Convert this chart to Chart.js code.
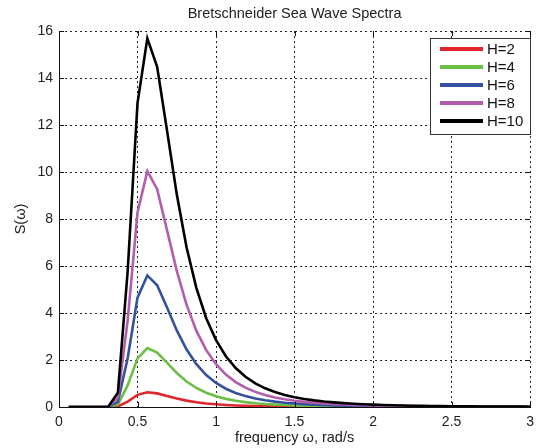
<!DOCTYPE html>
<html>
<head>
<meta charset="utf-8">
<script src="https://cdn.jsdelivr.net/npm/chart.js@4.4.0/dist/chart.umd.min.js"></script>
<style>
html,body{margin:0;padding:0;background:#fff;}
#wrap{width:541px;height:448px;}
</style>
</head>
<body>
<div id="wrap"><canvas id="c" width="541" height="448"></canvas></div>
<script>
const omega = [0.0625,0.125,0.1875,0.25,0.3125,0.375,0.4375,0.5,0.5625,0.625,0.6875,0.75,0.8125,0.875,0.9375,1.0,
  1.0625,1.125,1.1875,1.25,1.3125,1.375,1.4375,1.5,1.5625,1.625,1.6875,1.75,1.8125,1.875,1.9375,2.0,
  2.0625,2.125,2.1875,2.25,2.3125,2.375,2.4375,2.5,2.5625,2.625,2.6875,2.75,2.8125,2.875,2.9375,3.0];

const sH2 = [0,0,0,0,0,0.024,0.232,0.517,0.627,0.579,0.471,0.362,0.272,0.202,0.151,0.114,
  0.086,0.066,0.051,0.04,0.032,0.025,0.02,0.017,0.014,0.011,0.009,0.008,0.007,0.006,0.005,0.004,
  0.003,0.003,0.003,0.002,0.002,0.002,0.002,0.001,0.001,0.001,0.001,0.001,0.001,0.001,0.001,0.001];
const sH4 = [0,0,0,0,0,0.097,0.928,2.069,2.51,2.317,1.885,1.448,1.086,0.809,0.605,0.455,
  0.346,0.265,0.206,0.161,0.127,0.102,0.082,0.067,0.054,0.045,0.037,0.031,0.026,0.022,0.019,0.016,
  0.014,0.012,0.01,0.009,0.008,0.007,0.006,0.005,0.005,0.004,0.004,0.003,0.003,0.003,0.002,0.002];
const sH6 = [0,0,0,0,0,0.219,2.087,4.655,5.6,5.18,4.241,3.258,2.444,1.821,1.361,1.024,
  0.778,0.597,0.463,0.363,0.287,0.229,0.184,0.15,0.122,0.101,0.084,0.07,0.059,0.05,0.042,0.036,
  0.031,0.027,0.023,0.02,0.018,0.015,0.014,0.012,0.01,0.009,0.008,0.008,0.006,0.006,0.005,0.005];
const sH8 = [0,0,0,0,0,0.388,3.711,8.275,10.038,9.267,7.539,5.792,4.344,3.238,2.419,1.821,
  1.382,1.061,0.822,0.644,0.509,0.407,0.328,0.266,0.218,0.18,0.149,0.125,0.105,0.088,0.076,0.064,
  0.055,0.047,0.041,0.036,0.031,0.028,0.024,0.021,0.019,0.017,0.015,0.013,0.012,0.01,0.01,0.008];
const sH10 = [0,0,0,0,0,0.607,5.798,12.93,15.685,14.48,11.78,9.05,6.788,5.059,3.78,2.845,
  2.16,1.658,1.285,1.007,0.796,0.636,0.512,0.416,0.34,0.281,0.233,0.195,0.164,0.138,0.118,0.1,
  0.086,0.074,0.064,0.056,0.049,0.043,0.038,0.033,0.029,0.026,0.023,0.021,0.018,0.016,0.015,0.013];

const seriesLabels = ['H=2','H=4','H=6','H=8','H=10'];
const seriesColors = ['#e1262d','#6cbf45','#33519f','#b45cae','#000000'];
const xTickLabels = ['0','0.5','1','1.5','2','2.5','3'];
const yTickLabels = ['0','2','4','6','8','10','12','14','16'];
const titleText = 'Bretschneider Sea Wave Spectra';
const xTitle = 'frequency \u03c9, rad/s';
const yTitle = 'S(\u03c9)';

const allSeries = [sH2, sH4, sH6, sH8, sH10];
const FONT = '"Liberation Sans", Arial, sans-serif';

const datasets = allSeries.map((s, i) => ({
  label: seriesLabels[i],
  data: omega.map((w, j) => ({x: w, y: s[j]})),
  borderColor: seriesColors[i],
  backgroundColor: seriesColors[i],
  borderWidth: 2.6,
  pointRadius: 0,
  tension: 0,
  fill: false,
  order: 5 - i
}));

const decorPlugin = {
  id: 'decor',
  afterDraw(chart) {
    const ctx = chart.ctx;
    const a = chart.chartArea;
    const xs = chart.scales.x, ys = chart.scales.y;
    ctx.save();
    // inward tick marks on all four sides
    ctx.strokeStyle = '#111';
    ctx.lineWidth = 1;
    ctx.setLineDash([]);
    ctx.beginPath();
    xTickLabels.forEach((t, i) => {
      const px = Math.round(xs.getPixelForValue(i * 0.5)) + 0.5;
      ctx.moveTo(px, a.bottom); ctx.lineTo(px, a.bottom - 5);
      ctx.moveTo(px, a.top); ctx.lineTo(px, a.top + 5);
    });
    yTickLabels.forEach((t, i) => {
      const py = Math.round(ys.getPixelForValue(i * 2)) + 0.5;
      ctx.moveTo(a.left, py); ctx.lineTo(a.left + 5, py);
      ctx.moveTo(a.right, py); ctx.lineTo(a.right - 5, py);
    });
    ctx.stroke();

    // titles
    ctx.fillStyle = '#222';
    ctx.textAlign = 'center';
    ctx.textBaseline = 'middle';
    ctx.font = '14.5px ' + FONT;
    ctx.fillText(titleText, (a.left + a.right) / 2, 14);
    ctx.fillText(xTitle, (a.left + a.right) / 2, 438);
    ctx.save();
    ctx.translate(21, (a.top + a.bottom) / 2);
    ctx.rotate(-Math.PI / 2);
    ctx.fillText(yTitle, 0, 0);
    ctx.restore();

    // legend box
    const bx = 430.5, by = 38.5, bw = 100, bh = 96;
    ctx.fillStyle = '#fff';
    ctx.fillRect(bx, by, bw, bh);
    ctx.strokeStyle = '#333';
    ctx.lineWidth = 1;
    ctx.strokeRect(bx, by, bw, bh);
    const rows = [49, 67, 85, 103, 121];
    ctx.textAlign = 'left';
    ctx.font = '15px ' + FONT;
    chart.data.datasets.forEach((ds, i) => {
      ctx.strokeStyle = ds.borderColor;
      ctx.lineWidth = 4;
      ctx.beginPath();
      ctx.moveTo(440, rows[i]);
      ctx.lineTo(483, rows[i]);
      ctx.stroke();
      ctx.fillStyle = '#111';
      ctx.fillText(ds.label, 487, rows[i] + 1);
    });
    ctx.restore();
  }
};

new Chart(document.getElementById('c'), {
  type: 'line',
  data: { datasets },
  options: {
    responsive: false,
    animation: false,
    devicePixelRatio: 1,
    layout: { padding: { left: 0, top: 31, right: 5, bottom: 0 } },
    plugins: { legend: { display: false }, title: { display: false }, tooltip: { enabled: false } },
    scales: {
      x: {
        type: 'linear', min: 0, max: 3,
        afterFit(s) { s.height = 41; },
        ticks: {
          stepSize: 0.5, padding: 7, color: '#222',
          font: { family: FONT, size: 14 },
          maxRotation: 0, autoSkip: false,
          callback: (v, i) => xTickLabels[i]
        },
        grid: { color: '#222', lineWidth: 1, drawTicks: false },
        border: { display: true, color: '#111', width: 1, dash: [2, 3] }
      },
      y: {
        type: 'linear', min: 0, max: 16,
        afterFit(s) { s.width = 59; },
        ticks: {
          stepSize: 2, padding: 6, color: '#222',
          font: { family: FONT, size: 14 },
          callback: (v, i) => yTickLabels[i]
        },
        grid: { color: '#222', lineWidth: 1, drawTicks: false },
        border: { display: true, color: '#111', width: 1, dash: [2, 3] }
      }
    }
  },
  plugins: [decorPlugin]
});
</script>
</body>
</html>
